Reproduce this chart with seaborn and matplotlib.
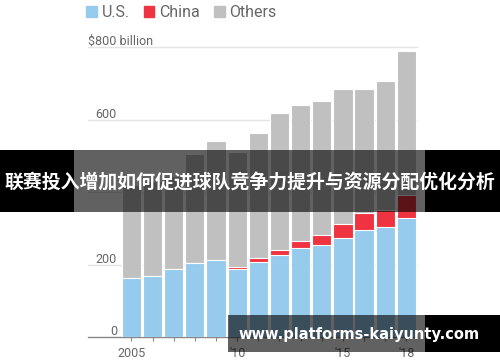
import pandas as pd
import matplotlib.pyplot as plt
import seaborn as sns
from matplotlib.patches import Rectangle, Patch

# data ($ billion)
years = list(range(2005, 2019))
us = [163, 168, 188, 205, 212, 188, 209, 226, 246, 254, 273, 295, 304, 330]
china = [0, 0, 0, 0, 0, 5, 10, 15, 20, 29, 40, 47, 46, 63]
total = [420, 430, 445, 505, 541, 512, 563, 619, 642, 652, 685, 685, 708, 789]
xlabels = ['2005', '', '', '', '', "'10", '', '', '', '', "'15", '', '', "'18"]
ytick_vals = [0, 200, 400, 600, 800]
ytick_text = ['0', '200', '', '600', '$800 billion']  # 400 sits under the banner

banner = '联赛投入增加如何促进球队竞争力提升与资源分配优化分析'
watermark = 'www.platforms-kaiyunty.com'

c_us = '#96cbee'
c_cn = '#ef3340'
c_ot = '#c0c0c0'

df = pd.DataFrame({'year': [str(y) for y in years], 'us': us, 'china': china, 'total': total})
df['us_cn'] = df['us'] + df['china']

sns.set_style('white')
plt.rcParams['font.family'] = ['Roboto', 'DejaVu Sans']

fig = plt.figure(figsize=(5, 3.62), dpi=100)
ax = fig.add_axes([88 / 500, 1 - 337.3 / 362, 329 / 500, 290 / 362])

# stacked bars: draw cumulative heights back to front
sns.barplot(data=df, x='year', y='total', color=c_ot, width=0.91, edgecolor='white',
            linewidth=0.8, saturation=1, ax=ax, zorder=2)
sns.barplot(data=df, x='year', y='us_cn', color=c_cn, width=0.91, edgecolor='white',
            linewidth=0.8, saturation=1, ax=ax, zorder=3)
sns.barplot(data=df, x='year', y='us', color=c_us, width=0.91, edgecolor='white',
            linewidth=0.8, saturation=1, ax=ax, zorder=4)

ax.set_xlim(-2.05, 13.5)
ax.set_ylim(0, 800)
ax.set_xlabel('')
ax.set_ylabel('')

# grid lines and y labels sitting above them
for v, t in zip(ytick_vals, ytick_text):
    if v > 0:
        ax.axhline(v, color='#e4e4e4', lw=1, zorder=1, clip_on=False)
    if not t:
        continue
    if v == 800:
        ax.text(0.0, v + 6, t, transform=ax.get_yaxis_transform(), ha='left', va='baseline',
                fontsize=9, color='#666666')
    else:
        ax.text(0.088, v + 6, t, transform=ax.get_yaxis_transform(), ha='right', va='baseline',
                fontsize=9, color='#666666')
ax.set_yticks([])

ax.set_xticks(range(len(years)))
ax.set_xticklabels(xlabels, fontsize=9, color='#666666')
ax.tick_params(axis='x', length=3, width=0.8, color='#888888', pad=4, bottom=True)

for s in ['top', 'right', 'left']:
    ax.spines[s].set_visible(False)
ax.spines['bottom'].set_color('#888888')
ax.spines['bottom'].set_linewidth(1)

# legend across the top
handles = [Patch(color=c_us, label='U.S.'), Patch(color=c_cn, label='China'),
           Patch(color=c_ot, label='Others')]
fig.legend(handles=handles, loc='upper left', bbox_to_anchor=(84 / 500, 1 - 2.5 / 362), ncol=3,
           frameon=False, fontsize=11.5, handlelength=0.65, handleheight=0.65,
           handletextpad=0.3, columnspacing=0.9, borderaxespad=0, borderpad=0.15,
           labelcolor='#666666')

# overlay banner
H = 362.0
def frect(x0, y0, x1, y1, alpha):
    fig.add_artist(Rectangle((x0 / 500, 1 - y1 / H), (x1 - x0) / 500, (y1 - y0) / H,
                             transform=fig.transFigure, facecolor='black', alpha=alpha,
                             edgecolor='none', zorder=10))

frect(0, 150, 74, 212, 1.0)
frect(74, 150, 425, 212, 0.62)
frect(425, 150, 500, 212, 1.0)
fig.text(0.5, 1 - 182 / H, banner, ha='center', va='center', color='white', fontsize=13.6,
         fontweight='bold', family=['Noto Sans CJK SC', 'DejaVu Sans'], zorder=11)

frect(228, 315, 425, 352, 0.62)
frect(425, 315, 500, 352, 1.0)
fig.text(359 / 500, 1 - 334 / H, watermark, ha='center', va='center', color='white',
         fontsize=10.5, fontweight='bold', family=['DejaVu Sans'], zorder=11)

fig.savefig('out.png', dpi=100)
